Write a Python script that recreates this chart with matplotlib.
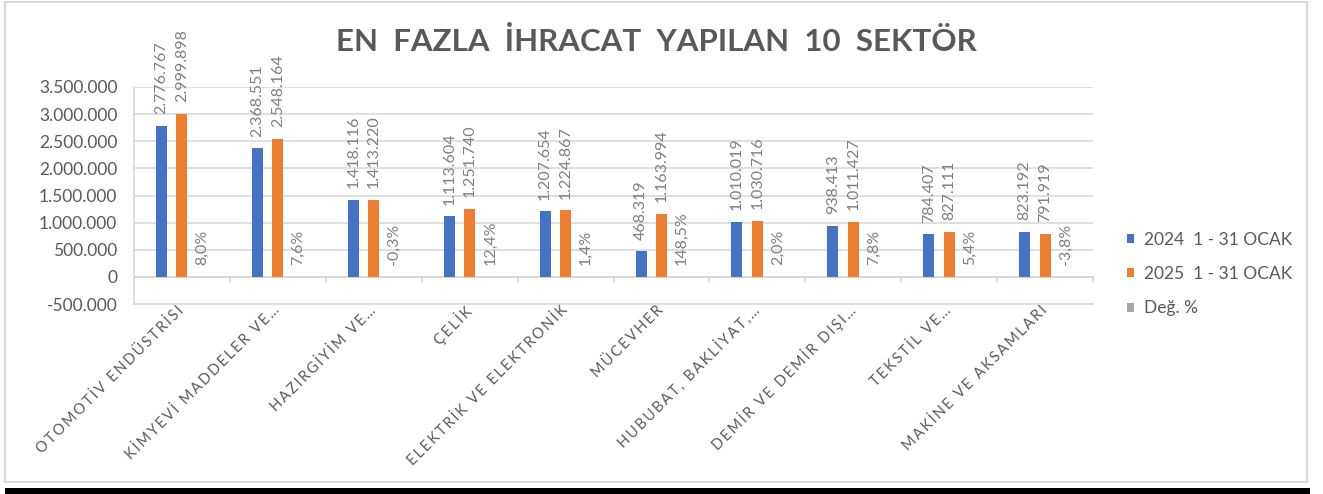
# -*- coding: utf-8 -*-

import numpy as np
import matplotlib.pyplot as plt
from matplotlib.patches import Rectangle


sektorler = ['OTOMOTİV ENDÜSTRİSİ', 'KİMYEVİ MADDELER VE…', 'HAZIRGİYİM VE…', 'ÇELİK',
             'ELEKTRİK VE ELEKTRONİK', 'MÜCEVHER', 'HUBUBAT, BAKLİYAT,…',
             'DEMİR VE DEMİR DIŞI…', 'TEKSTİL VE…', 'MAKİNE VE AKSAMLARI']
ocak_2024 = [2776767, 2368551, 1418116, 1113604, 1207654, 468319, 1010019, 938413, 784407, 823192]
ocak_2025 = [2999898, 2548164, 1413220, 1251740, 1224867, 1163994, 1030716, 1011427, 827111, 791919]
degisim = [8.0, 7.6, -0.3, 12.4, 1.4, 148.5, 2.0, 7.8, 5.4, -3.8]
seri_adlari = ['2024  1 - 31 OCAK', '2025  1 - 31 OCAK', 'Değ. %']
renkler = ['#4472C4', '#ED7D31', '#A5A5A5']

GRI_YAZI = '#595959'
GRI_ETIKET = '#7F7F7F'
GRI_CIZGI = '#D9D9D9'
FONT = ['Lato', 'DejaVu Sans']

plt.rcParams['font.family'] = FONT


def nokta(v):
    return '{:,}'.format(v).replace(',', '.')


def aralikli(s):
    # excel'deki harf araligi icin ince bosluk
    return '\u2009'.join(s)


fig = plt.figure(figsize=(13.23, 4.94), dpi=100)
ax = fig.add_axes([0.1013, 0.3846, 0.7249, 0.4393])

x = np.arange(len(sektorler))
w = 0.115
off = 0.2135

seriler = [ocak_2024, ocak_2025, degisim]
bars = []
for j, seri in enumerate(seriler):
    b = ax.bar(x + (j - 1) * off, seri, w, color=renkler[j], label=seri_adlari[j], zorder=3)
    bars.append(b)

# deger etiketleri
for j, seri in enumerate(seriler):
    for i, v in enumerate(seri):
        if j < 2:
            txt = nokta(v)
        else:
            txt = ('%.1f%%' % v).replace('.', ',')
        ax.annotate(txt, xy=(x[i] + (j - 1) * off, max(v, 0)), xytext=(0, 8.5),
                    textcoords='offset points', rotation=90, ha='center', va='bottom',
                    fontsize=11.5, color=GRI_ETIKET, zorder=4)

ax.set_ylim(-500000, 3500000)
ax.set_xlim(-0.5, len(sektorler) - 0.5)
yt = np.arange(-500000, 3500001, 500000)
ax.set_yticks(yt)
ax.set_yticklabels([nokta(int(v)) for v in yt])
ax.tick_params(axis='y', length=0, pad=12, labelsize=12.5, labelcolor=GRI_YAZI)
ax.grid(axis='y', color=GRI_CIZGI, linewidth=1.2, zorder=0)

ax.set_xticks(x)
ax.set_xticklabels([aralikli(s) for s in sektorler], rotation=45, ha='right', va='center',
                   rotation_mode='anchor', fontsize=10.5, color=GRI_YAZI)
ax.tick_params(axis='x', length=0, pad=3)

for s in ['top', 'right']:
    ax.spines[s].set_visible(False)
for s in ['left', 'bottom']:
    ax.spines[s].set_color(GRI_CIZGI)
    ax.spines[s].set_linewidth(1.2)

# sifir cizgisi ve kategori ayirici tikler
sec = ax.secondary_xaxis(500000 / 4000000)
sec.set_xticks(np.arange(-0.5, len(sektorler), 1.0))
sec.set_xticklabels([])
sec.tick_params(axis='x', length=4.5, width=1.2, color=GRI_CIZGI, direction='out')
sec.spines['bottom'].set_color('#BFBFBF')
sec.spines['bottom'].set_linewidth(1.2)

fig.text(0.496, 0.915, 'EN  FAZLA  İHRACAT  YAPILAN  10  SEKTÖR', ha='center', va='center',
         fontsize=22.5, fontweight='bold', color=GRI_YAZI)

handles, labels = ax.get_legend_handles_labels()
fig.legend(handles, labels, loc='center left', bbox_to_anchor=(0.8518, 0.4453),
           frameon=False, borderpad=0, borderaxespad=0, handlelength=0.42,
           handleheight=0.42, handletextpad=0.55, labelspacing=1.05,
           fontsize=12.5, labelcolor=GRI_YAZI)

# cerceve ve alttaki siyah serit
fig.add_artist(Rectangle((5 / 1323, 1 - 482 / 494), 1302 / 1323, 480 / 494,
                         transform=fig.transFigure, fill=False, ec=GRI_CIZGI, lw=1.5))
fig.add_artist(Rectangle((5 / 1323, 0), 1305 / 1323, 6 / 494,
                         transform=fig.transFigure, fc='black', ec='none'))

plt.savefig('out.png', dpi=100)
